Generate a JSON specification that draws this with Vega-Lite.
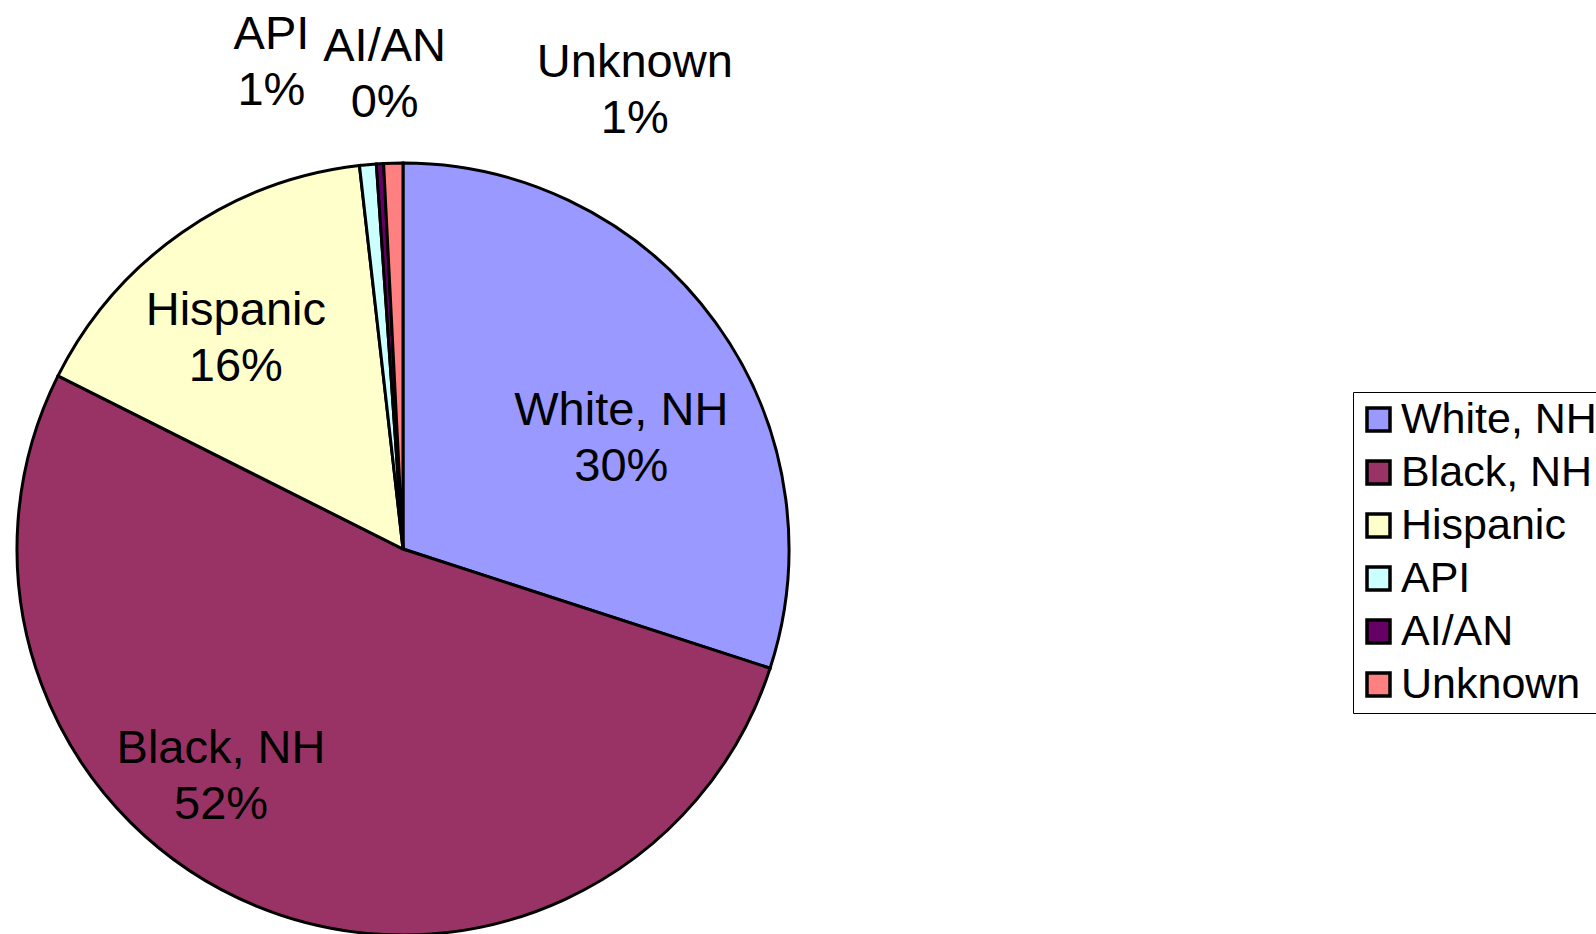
{
  "$schema": "https://vega.github.io/schema/vega-lite/v6.json",
  "autosize": {"type": "none"},
  "width": 806,
  "height": 768,
  "padding": {"left": 0, "top": 165, "right": 790, "bottom": 1},
  "background": "white",
  "config": {"view": {"stroke": null}, "font": "Liberation Sans"},
  "data": {
    "values": [
      {"cat": "White, NH", "value": 30.0},
      {"cat": "Black, NH", "value": 52.4},
      {"cat": "Hispanic", "value": 15.8},
      {"cat": "API", "value": 0.7},
      {"cat": "AI/AN", "value": 0.3},
      {"cat": "Unknown", "value": 0.8}
    ]
  },
  "transform": [
    {"stack": "value", "groupby": [], "as": ["v0", "v1"]},
    {"calculate": "(datum.v0 + datum.v1) / 2", "as": "mid"},
    {"calculate": "datum.cat + '\\n' + format(datum.value, '.0f') + '%'", "as": "label"}
  ],
  "layer": [
    {
      "mark": {"type": "arc", "outerRadius": 386, "stroke": "black", "strokeWidth": 3},
      "encoding": {
        "theta": {"field": "v0", "type": "quantitative", "scale": {"domain": [0, 100]}},
        "theta2": {"field": "v1"},
        "color": {
          "field": "cat",
          "type": "nominal",
          "sort": null,
          "scale": {
            "domain": ["White, NH", "Black, NH", "Hispanic", "API", "AI/AN", "Unknown"],
            "range": ["#9999FF", "#993366", "#FFFFCC", "#CCFFFF", "#660066", "#FF8080"]
          },
          "legend": {
            "title": null,
            "orient": "none",
            "legendX": 1353,
            "legendY": 227,
            "padding": 6,
            "strokeColor": "black",
            "symbolType": "square",
            "symbolSize": 529,
            "symbolOffset": -2,
            "symbolStrokeColor": "black",
            "symbolStrokeWidth": 3.5,
            "symbolOpacity": 1,
            "labelFontSize": 43,
            "labelFont": "Liberation Sans",
            "labelColor": "black",
            "labelLimit": 0,
            "labelOffset": 1,
            "rowPadding": 9
          }
        }
      }
    },
    {
      "transform": [{"filter": "datum.cat == 'White, NH'"}],
      "mark": {"type": "text", "radius": 245, "thetaOffset": 0.157, "dy": -27, "fontSize": 47, "lineBreak": "\n", "lineHeight": 56, "font": "Liberation Sans", "color": "black", "align": "center", "baseline": "middle"},
      "encoding": {"theta": {"field": "mid", "type": "quantitative", "scale": {"domain": [0, 100]}}, "text": {"field": "label"}}
    },
    {
      "transform": [{"filter": "datum.cat == 'Black, NH'"}],
      "mark": {"type": "text", "radius": 291, "thetaOffset": 0.286, "dy": -27, "fontSize": 47, "lineBreak": "\n", "lineHeight": 56, "font": "Liberation Sans", "color": "black", "align": "center", "baseline": "middle"},
      "encoding": {"theta": {"field": "mid", "type": "quantitative", "scale": {"domain": [0, 100]}}, "text": {"field": "label"}}
    },
    {
      "transform": [{"filter": "datum.cat == 'Hispanic'"}],
      "mark": {"type": "text", "radius": 269, "thetaOffset": -0.061, "dy": -27, "fontSize": 47, "lineBreak": "\n", "lineHeight": 56, "font": "Liberation Sans", "color": "black", "align": "center", "baseline": "middle"},
      "encoding": {"theta": {"field": "mid", "type": "quantitative", "scale": {"domain": [0, 100]}}, "text": {"field": "label"}}
    },
    {
      "transform": [{"filter": "datum.cat == 'API'"}],
      "mark": {"type": "text", "radius": 504, "thetaOffset": -0.173, "dy": -27, "fontSize": 47, "lineBreak": "\n", "lineHeight": 56, "font": "Liberation Sans", "color": "black", "align": "center", "baseline": "middle"},
      "encoding": {"theta": {"field": "mid", "type": "quantitative", "scale": {"domain": [0, 100]}}, "text": {"field": "label"}}
    },
    {
      "transform": [{"filter": "datum.cat == 'AI/AN'"}],
      "mark": {"type": "text", "radius": 475, "thetaOffset": 0.021, "dy": -27, "fontSize": 47, "lineBreak": "\n", "lineHeight": 56, "font": "Liberation Sans", "color": "black", "align": "center", "baseline": "middle"},
      "encoding": {"theta": {"field": "mid", "type": "quantitative", "scale": {"domain": [0, 100]}}, "text": {"field": "label"}}
    },
    {
      "transform": [{"filter": "datum.cat == 'Unknown'"}],
      "mark": {"type": "text", "radius": 514, "thetaOffset": 0.493, "dy": -27, "fontSize": 47, "lineBreak": "\n", "lineHeight": 56, "font": "Liberation Sans", "color": "black", "align": "center", "baseline": "middle"},
      "encoding": {"theta": {"field": "mid", "type": "quantitative", "scale": {"domain": [0, 100]}}, "text": {"field": "label"}}
    }
  ]
}
